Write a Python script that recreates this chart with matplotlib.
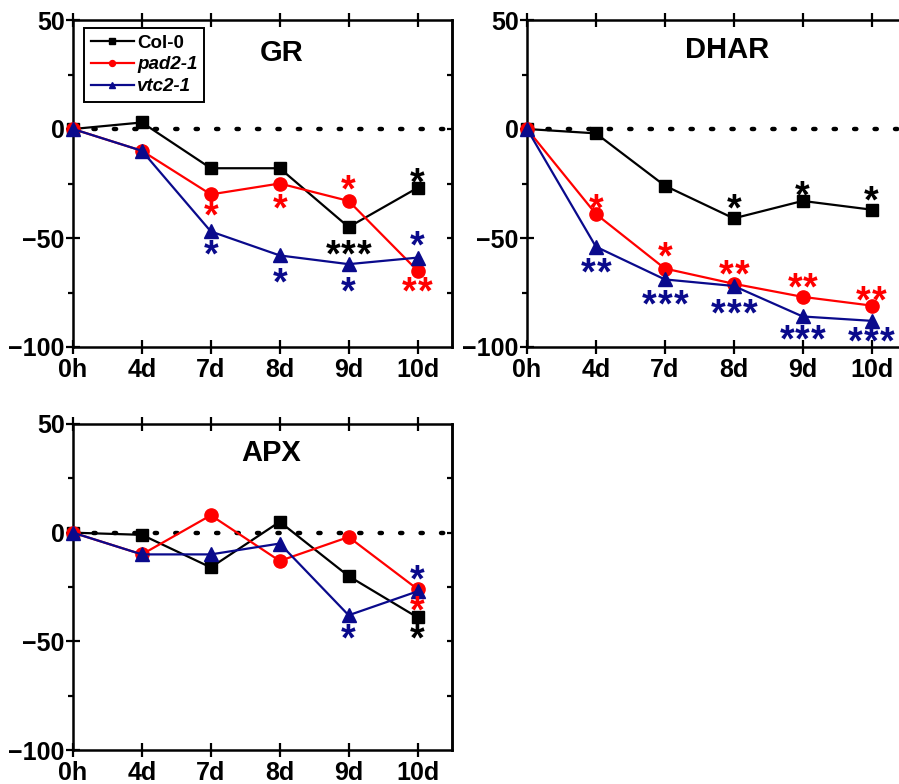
import matplotlib
matplotlib.use('Agg')
import matplotlib.pyplot as plt
from matplotlib.ticker import MultipleLocator

plt.rcParams.update({
    'font.family': 'Liberation Sans',
    'font.weight': 'bold',
    'axes.unicode_minus': True,
})

# --- data ---
times = ['0h', '4d', '7d', '8d', '9d', '10d']
lines = ['Col-0', 'pad2-1', 'vtc2-1']

gr_col = [0, 3, -18, -18, -45, -27]
gr_pad = [0, -10, -30, -25, -33, -65]
gr_vtc = [0, -10, -47, -58, -62, -59]

dhar_col = [0, -2, -26, -41, -33, -37]
dhar_pad = [0, -39, -64, -71, -77, -81]
dhar_vtc = [0, -54, -69, -72, -86, -88]

apx_col = [0, -1, -16, 5, -20, -39]
apx_pad = [0, -10, 8, -13, -2, -26]
apx_vtc = [0, -10, -10, -5, -38, -27]

# significance marks: (time index, y, number of asterisks, line)
gr_sig = [(2, -36, 1, 1), (2, -54, 1, 2), (3, -33, 1, 1), (3, -67, 1, 2),
          (4, -24, 1, 1), (4, -54, 3, 0), (4, -71, 1, 2),
          (5, -21, 1, 0), (5, -50, 1, 2), (5, -71, 2, 1)]
dhar_sig = [(1, -33, 1, 1), (1, -62, 2, 2), (2, -55, 1, 1), (2, -77, 3, 2),
            (3, -33, 1, 0), (3, -63, 2, 1), (3, -81, 3, 2),
            (4, -27, 1, 0), (4, -69, 2, 1), (4, -93, 3, 2),
            (5, -29, 1, 0), (5, -75, 2, 1), (5, -94, 3, 2)]
apx_sig = [(4, -45, 1, 2), (5, -18, 1, 2), (5, -32, 1, 1), (5, -45, 1, 0)]

colors = ['black', '#ff0000', '#0a0a8c']
markers = ['s', 'o', '^']
msizes = [9, 9.5, 10]

W, H = 899, 784
fig = plt.figure(figsize=(W / 100, H / 100), dpi=100)
STAR_FS = 27


def px_axes(left, top, right, bottom):
    return fig.add_axes([left / W, 1 - bottom / H, (right - left) / W, (bottom - top) / H])


def panel(ax, series, sig, title, tx, ty, legend=False):
    x = list(range(len(times)))
    for i, ys in enumerate(series):
        ax.plot(x, ys, color=colors[i], marker=markers[i], ms=msizes[i], lw=1.6,
                label=lines[i], zorder=3, clip_on=False)
    ax.axhline(0, color='black', ls=(0, (0.5, 4.1)), lw=3.2, dash_capstyle='round', zorder=1)
    # asterisks, one glyph each so the spacing matches
    for xi, yv, n, li in sig:
        for k in range(n):
            ax.annotate('*', (xi, yv), xytext=((k - (n - 1) / 2) * 11.5, -0.53 * STAR_FS),
                        textcoords='offset points', color=colors[li], ha='center',
                        va='baseline', fontsize=STAR_FS, fontweight='bold', zorder=4,
                        annotation_clip=False)
    ax.set_xlim(0, 5.5)
    ax.set_ylim(-100, 50)
    ax.set_xticks(x)
    ax.set_xticklabels(times)
    ax.set_yticks([50, 0, -50, -100])
    ax.yaxis.set_minor_locator(MultipleLocator(25))
    for s in ax.spines.values():
        s.set_linewidth(1.8)
    ax.tick_params(axis='both', which='major', direction='inout', length=10, width=1.6,
                   labelsize=18, pad=1)
    ax.tick_params(axis='x', which='major', pad=3, top=True)
    ax.tick_params(axis='y', which='minor', direction='out', length=3.5, width=1.6)
    ax.tick_params(axis='x', which='minor', bottom=False)
    sec = ax.secondary_yaxis('right')
    sec.set_yticks([25, 0, -25, -50, -75])
    sec.tick_params(direction='in', length=3.5, width=1.6, labelright=False)
    sec.spines['right'].set_linewidth(1.8)
    ax.text(tx, ty, title, transform=ax.transAxes, ha='center', va='center',
            fontsize=21, fontweight='bold')
    if legend:
        leg = ax.legend(loc='upper left', bbox_to_anchor=(0.029, 0.976), borderaxespad=0,
                        fancybox=False, edgecolor='black', framealpha=1, fontsize=13.5,
                        handlelength=2.3, markerscale=0.45, borderpad=0.35,
                        labelspacing=0.25, handletextpad=0.2)
        leg.get_frame().set_linewidth(1.4)
        for t in leg.get_texts():
            if t.get_text() != 'Col-0':
                t.set_fontstyle('italic')


ax1 = px_axes(73, 20, 452, 347)
panel(ax1, [gr_col, gr_pad, gr_vtc], gr_sig, 'GR', 0.55, 0.90, legend=True)

ax2 = px_axes(527, 20, 906, 347)
panel(ax2, [dhar_col, dhar_pad, dhar_vtc], dhar_sig, 'DHAR', 0.528, 0.908)

ax3 = px_axes(73, 424, 452, 750)
panel(ax3, [apx_col, apx_pad, apx_vtc], apx_sig, 'APX', 0.522, 0.911)

fig.savefig('out.png', dpi=100)
